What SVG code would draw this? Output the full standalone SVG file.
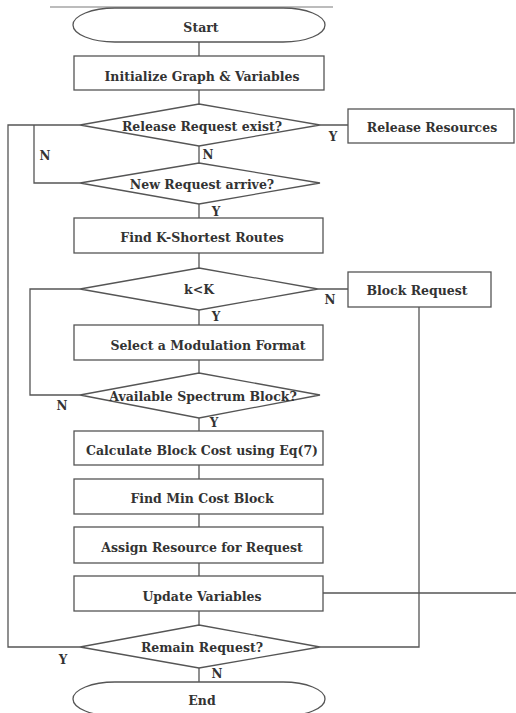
<svg xmlns="http://www.w3.org/2000/svg" width="516" height="713" viewBox="0 0 516 713">
<style>
.s{fill:#fff;stroke:#555;stroke-width:1.3}
.c{fill:none;stroke:#555;stroke-width:1.3}
text{font-family:"DejaVu Serif","Liberation Serif",serif;font-weight:bold;font-size:12.5px;fill:#333;text-anchor:middle}
.l{font-size:12px}
</style>
<rect width="516" height="713" fill="#fff"/>
<line x1="50" y1="7" x2="333" y2="7" stroke="#444" stroke-width="1.2" opacity="0.7"/>
<g id="connectors">
<path class="c" d="M199,42V56M199,90V104M320,125H348M80,647H8V125H80M80,183H34V125M199,146V163M199,204V218M199,253V268M318,289H348M80,289H30V395H80M199,310V325M199,360V373M199,418V431M199,465V479M199,514V527M199,563V576M199,611V625M323,593H516M419,307V647H320M199,668V682"/>
</g>
<g id="start"><rect class="s" x="73" y="8" width="252" height="34" rx="42" ry="17"/><text x="201" y="32">Start</text></g>
<g id="init"><rect class="s" x="74" y="56" width="250" height="34"/><text x="202" y="81">Initialize Graph &amp; Variables</text></g>
<g id="d1"><polygon class="s" points="199,104 320,125 199,146 80,125"/><text x="202" y="131">Release Request exist?</text></g>
<g id="release"><rect class="s" x="348" y="109" width="166" height="34"/><text x="432" y="132">Release Resources</text></g>
<g id="d2"><polygon class="s" points="199,163 320,183 199,204 80,183"/><text x="202" y="189">New Request arrive?</text></g>
<g id="findk"><rect class="s" x="74" y="218" width="249" height="35"/><text x="202" y="242">Find K-Shortest Routes</text></g>
<g id="d3"><polygon class="s" points="199,268 318,289 199,310 80,289"/><text x="199" y="294">k&lt;K</text></g>
<g id="block"><rect class="s" x="348" y="272" width="143" height="35"/><text x="417" y="295">Block Request</text></g>
<g id="select"><rect class="s" x="74" y="325" width="249" height="35"/><text x="208" y="350">Select a Modulation Format</text></g>
<g id="d4"><polygon class="s" points="199,373 320,395 199,418 80,395"/><text x="203" y="401">Available Spectrum Block?</text></g>
<g id="calc"><rect class="s" x="74" y="431" width="249" height="34"/><text x="202" y="455">Calculate Block Cost using Eq(7)</text></g>
<g id="findmin"><rect class="s" x="74" y="479" width="249" height="35"/><text x="202" y="503">Find Min Cost Block</text></g>
<g id="assign"><rect class="s" x="74" y="527" width="249" height="36"/><text x="202" y="552">Assign Resource for Request</text></g>
<g id="update"><rect class="s" x="74" y="576" width="249" height="35"/><text x="202" y="601">Update Variables</text></g>
<g id="d5"><polygon class="s" points="199,625 320,647 199,668 80,647"/><text x="202" y="652">Remain Request?</text></g>
<g id="end"><rect class="s" x="73" y="682" width="252" height="34" rx="42" ry="17"/><text x="202" y="705">End</text></g>
<g id="labels">
<text class="l" x="333" y="141">Y</text>
<text class="l" x="45" y="160">N</text>
<text class="l" x="208" y="159">N</text>
<text class="l" x="216" y="216">Y</text>
<text class="l" x="330" y="304">N</text>
<text class="l" x="216" y="321">Y</text>
<text class="l" x="62" y="410">N</text>
<text class="l" x="214" y="427">Y</text>
<text class="l" x="63" y="664">Y</text>
<text class="l" x="217" y="678">N</text>
</g>
</svg>
